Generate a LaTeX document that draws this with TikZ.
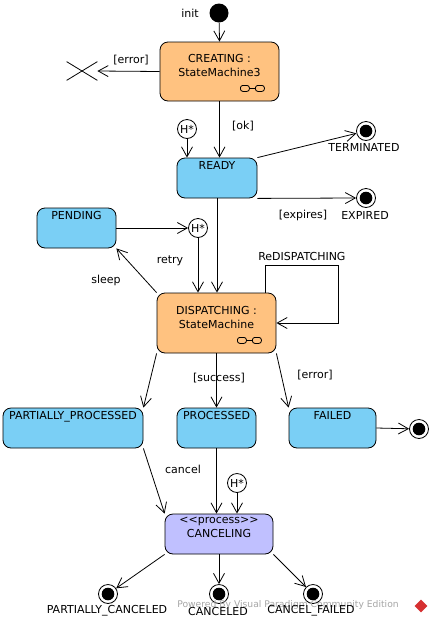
\documentclass[tikz,border=0pt]{standalone}
\usepackage{fontspec}
\setmainfont{DejaVu Sans}
\usetikzlibrary{arrows.meta,positioning,shapes.misc,shapes.geometric}

\definecolor{stateorange}{RGB}{255,194,128}
\definecolor{stateblue}{RGB}{122,207,245}
\definecolor{statepurple}{RGB}{192,192,255}
\definecolor{vpred}{RGB}{214,48,49}

\tikzset{
  statebox/.style={draw, rounded corners=8pt, inner sep=0},
  boxtext/.style={inner sep=0, align=center},
  initst/.style={circle, fill=black, minimum size=19pt, inner sep=0},
  finalst/.style={circle, draw, fill=white, minimum size=19pt, inner sep=0},
  histst/.style={circle, draw, fill=white, minimum size=19pt, inner sep=0},
  stopst/.style={cross out, draw, minimum width=30pt, minimum height=18pt, inner sep=0},
  lbl/.style={inner sep=1pt}
}

% little "submachine" glasses in the lower right corner of a box
\newcommand{\submachine}[1]{%
  \draw[rounded corners=2.5pt] ([shift={(-39pt,10pt)}]#1.south east) rectangle ++(9pt,6pt);
  \draw[rounded corners=2.5pt] ([shift={(-24pt,10pt)}]#1.south east) rectangle ++(9pt,6pt);
  \draw ([shift={(-30pt,13pt)}]#1.south east) -- ++(6pt,0);
}

\begin{document}
\begin{tikzpicture}[x=1pt, y=1pt, line width=0.8pt,
  >={Straight Barb[length=10pt,width=11pt]},
  font=\fontsize{11}{14.5}\selectfont]
 \useasboundingbox[fill=white] (0,0) rectangle (433,-622);

 % Top - creation
 \node[initst] (init) at (219,-13) {};
 \node[lbl] (initlbl) at (190,-13) {init};
 \node[statebox, fill=stateorange, minimum width=119pt, minimum height=59pt] (creating) at (219.5,-71.5) {};
 \node[boxtext, below=12pt of creating.north] (creatingtxt) {CREATING :\\StateMachine3};
 \submachine{creating}
 \node[stopst] (stop) at (82,-71) {};

 \draw[->] (init) -- (creating.north);
 \draw[->] (creating.west) -- (stop.east);
 \node[lbl] (errlbl) at (131,-60) {[error]};

 % Ready and its exits
 \node[histst] (histready) at (187,-129) {H*};
 \node[statebox, fill=stateblue, minimum width=80pt, minimum height=40pt] (ready) at (217,-178) {};
 \node[boxtext, below=3pt of ready.north] (readytxt) {READY};
 \node[finalst] (terminated) at (366,-131) {};
 \node[lbl] (termlbl) at (364,-147) {TERMINATED};
 \node[finalst] (expired) at (366,-198) {};
 \node[lbl] (explbl) at (365,-215) {EXPIRED};

 \draw[->] (creating.south) -- (creating.south |- ready.north);
 \node[lbl] (oklbl) at (243,-126) {[ok]};
 \draw[->] (histready) -- (histready |- ready.north);
 \draw[->] (ready.north east) -- (terminated);
 \draw[->] (ready.south east) -- (expired.west);
 \node[lbl] (expireslbl) at (303,-215) {[expires]};

 % Pending / dispatching
 \node[statebox, fill=stateblue, minimum width=79pt, minimum height=40pt] (pending) at (76.5,-228) {};
 \node[boxtext, below=3pt of pending.north] (pendingtxt) {PENDING};
 \node[histst] (histpend) at (198,-228) {H*};
 \node[statebox, fill=stateorange, minimum width=119pt, minimum height=60pt] (dispatching) at (216.5,-323) {};
 \node[boxtext, below=13pt of dispatching.north] (dispatchingtxt) {DISPATCHING :\\StateMachine};
 \submachine{dispatching}

 \draw[->] (pending.east) -- (histpend.west);
 \draw[->] (histpend) -- (histpend |- dispatching.north);
 \draw[->] (ready.south) -- (ready.south |- dispatching.north);
 \node[lbl] (retrylbl) at (170,-261) {retry};
 \draw[->] (dispatching.north west) -- (pending.south east);
 \node[lbl] (sleeplbl) at (106,-280) {sleep};
 \draw[->] ([xshift=-11pt]dispatching.north east) -- ++(0,27)
   -- node[lbl, above=4pt] (redisplbl) {ReDISPATCHING} ++(73,0) |- (dispatching.east);

 % Results of dispatching
 \node[statebox, fill=stateblue, minimum width=140pt, minimum height=40pt] (pprocessed) at (73,-428) {};
 \node[boxtext, below=3pt of pprocessed.north] (pprocessedtxt) {PARTIALLY\_PROCESSED};
 \node[statebox, fill=stateblue, minimum width=79pt, minimum height=40pt] (processed) at (216.5,-428) {};
 \node[boxtext, below=3pt of processed.north] (processedtxt) {PROCESSED};
 \node[statebox, fill=stateblue, minimum width=87pt, minimum height=40pt] (failed) at (332.5,-428) {};
 \node[boxtext, below=3pt of failed.north] (failedtxt) {FAILED};
 \node[finalst] (failedend) at (419,-429) {};

 \draw[->] (dispatching.south west) -- (pprocessed.north east);
 \draw[->] (dispatching.south) -- (dispatching.south |- processed.north);
 \node[lbl] (successlbl) at (219,-378) {[success]};
 \draw[->] (dispatching.south east) -- (failed.north west);
 \node[lbl] (errlbl2) at (315,-375) {[error]};
 \draw[->] (failed.east) -- (failedend);

 % Canceling
 \node[histst] (histcancel) at (237,-483) {H*};
 \node[statebox, fill=statepurple, minimum width=108pt, minimum height=40pt] (canceling) at (219,-534) {};
 \node[boxtext, below=3pt of canceling.north] (cancelingtxt) {<{}<process>{}>\\CANCELING};

 \draw[->] (pprocessed.south east) -- (canceling.north west);
 \draw[->] (processed.south) -- (processed.south |- canceling.north);
 \node[lbl] (cancellbl) at (183,-469) {cancel};
 \draw[->] (histcancel) -- (histcancel |- canceling.north);

 \node[finalst] (pcanceled) at (108,-594) {};
 \node[finalst] (canceled) at (219,-594) {};
 \node[finalst] (cfailed) at (313,-594) {};
 \draw[->] (canceling.south west) -- (pcanceled);
 \draw[->] (canceling.south) -- (canceled);
 \draw[->] (canceling.south east) -- (cfailed);

 % inner dots of the final states
 \foreach \f in {terminated,expired,failedend,pcanceled,canceled,cfailed}
   \fill (\f.center) circle (6.3);

 % Watermark
 \node[lbl, text=black!35, font=\fontsize{9.2}{11}\selectfont] (wmark) at (288,-605) {Powered By Visual Paradigm Community Edition};
 \node[lbl] (pclbl) at (107,-611) {PARTIALLY\_CANCELED};
 \node[lbl] (clbl) at (218,-611) {CANCELED};
 \node[lbl] (cflbl) at (311,-611) {CANCEL\_FAILED};
 \node[diamond, fill=vpred, minimum size=13pt, inner sep=0] (vplogo) at (421,-606) {};
\end{tikzpicture}
\end{document}
